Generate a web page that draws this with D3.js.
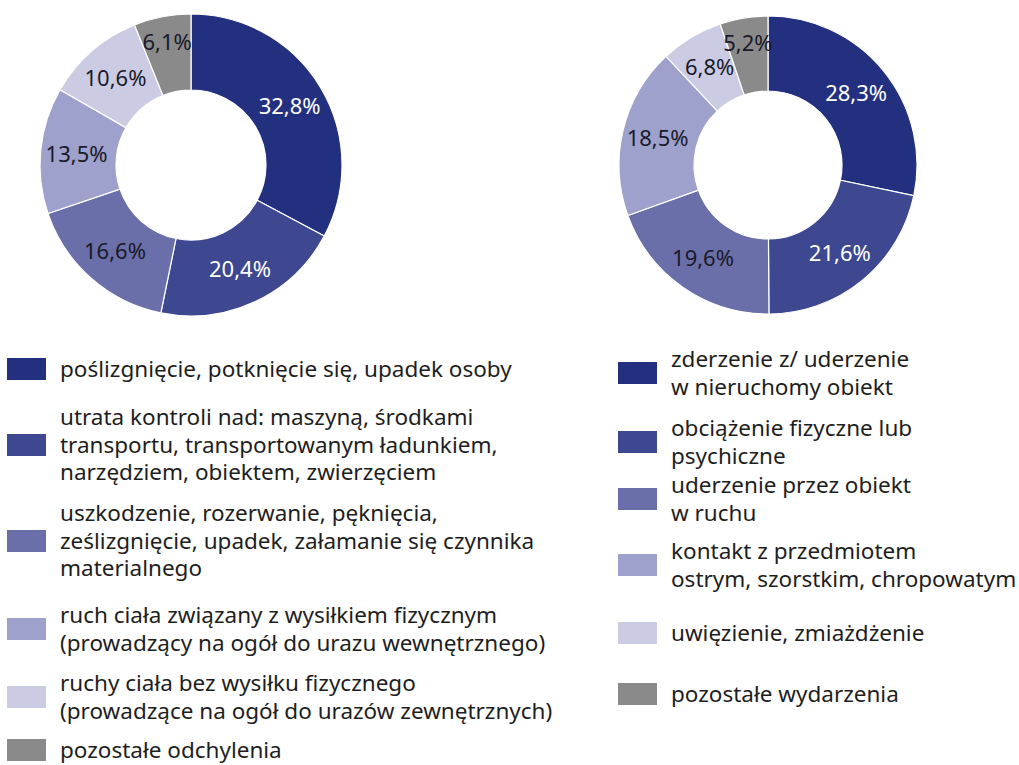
<!DOCTYPE html>
<html>
<head>
<meta charset="utf-8">
<script src="https://cdn.jsdelivr.net/npm/d3@7"></script>
<style>
  body { margin: 0; background: #fff; }
  svg { display: block; }
</style>
</head>
<body>
<div id="chart"></div>
<script>
// Data: odchylenia (left) and wydarzenia (right)
const leftValues = [32.8, 20.4, 16.6, 13.5, 10.6, 6.1];
const leftLegend = [
  ['poślizgnięcie, potknięcie się, upadek osoby'],
  ['utrata kontroli nad: maszyną, środkami', 'transportu, transportowanym ładunkiem,', 'narzędziem, obiektem, zwierzęciem'],
  ['uszkodzenie, rozerwanie, pęknięcia,', 'ześlizgnięcie, upadek, załamanie się czynnika', 'materialnego'],
  ['ruch ciała związany z wysiłkiem fizycznym', '(prowadzący na ogół do urazu wewnętrznego)'],
  ['ruchy ciała bez wysiłku fizycznego', '(prowadzące na ogół do urazów zewnętrznych)'],
  ['pozostałe odchylenia']
];

const rightValues = [28.3, 21.6, 19.6, 18.5, 6.8, 5.2];
const rightLegend = [
  ['zderzenie z/ uderzenie', 'w nieruchomy obiekt'],
  ['obciążenie fizyczne lub', 'psychiczne'],
  ['uderzenie przez obiekt', 'w ruchu'],
  ['kontakt z przedmiotem', 'ostrym, szorstkim, chropowatym'],
  ['uwięzienie, zmiażdżenie'],
  ['pozostałe wydarzenia']
];

const colors = ['#23307f', '#3d4891', '#6b6fa9', '#9ea1cc', '#cbcce4', '#8a8a8a'];
const labelColors = ['#fff', '#fff', '#1a1a2a', '#1a1a2a', '#1a1a2a', '#1a1a2a'];

const width = 1019, height = 765;
const font = '"Noto Sans", "Open Sans", sans-serif';

const svg = d3.select('#chart').append('svg')
  .attr('width', width)
  .attr('height', height);

const fmt = v => d3.format('.1f')(v).replace('.', ',') + '%';

function donut(values, cx, cy, rOuter, rInner) {
  const pie = d3.pie().sort(null).value(d => d);
  const arc = d3.arc().innerRadius(rInner).outerRadius(rOuter);
  const mid = (rInner + rOuter) / 2 + 2;
  // narrow slices get their label pushed a bit outward
  const labelR = d => d.data < 6.5 ? mid + 10 : mid;

  const g = svg.append('g').attr('transform', `translate(${cx}, ${cy})`);
  const arcs = pie(values);

  g.selectAll('path')
    .data(arcs)
    .join('path')
    .attr('d', arc)
    .attr('fill', (d, i) => colors[i])
    .attr('stroke', '#fff')
    .attr('stroke-width', 1.2);

  g.selectAll('text')
    .data(arcs)
    .join('text')
    .attr('transform', d => {
      const r = labelR(d);
      return `translate(${d3.arc().innerRadius(r).outerRadius(r).centroid(d)})`;
    })
    .attr('text-anchor', 'middle')
    .attr('dy', '0.35em')
    .style('font-family', font)
    .style('font-size', '22px')
    .attr('fill', (d, i) => labelColors[i])
    .text(d => fmt(d.data));
}

function legend(items, x, centers) {
  const lineH = 27.5;
  const g = svg.append('g');
  items.forEach((lines, i) => {
    const cy = centers[i];
    g.append('rect')
      .attr('x', x)
      .attr('y', cy - 11)
      .attr('width', 39)
      .attr('height', 22)
      .attr('fill', colors[i]);
    const top = cy - (lines.length - 1) * lineH / 2;
    const t = g.append('text')
      .style('font-family', font)
      .style('font-size', '22.5px')
      .attr('fill', '#1e1e1e');
    lines.forEach((ln, j) => {
      t.append('tspan')
        .attr('x', x + 53)
        .attr('y', top + j * lineH)
        .attr('dy', '0.35em')
        .text(ln);
    });
  });
}

donut(leftValues, 191, 165, 151, 75);
donut(rightValues, 768, 165, 149, 74);

legend(leftLegend, 7, [369, 445, 541, 629, 697, 750]);
legend(rightLegend, 618, [373, 442, 499, 565, 633, 694]);
</script>
</body>
</html>
